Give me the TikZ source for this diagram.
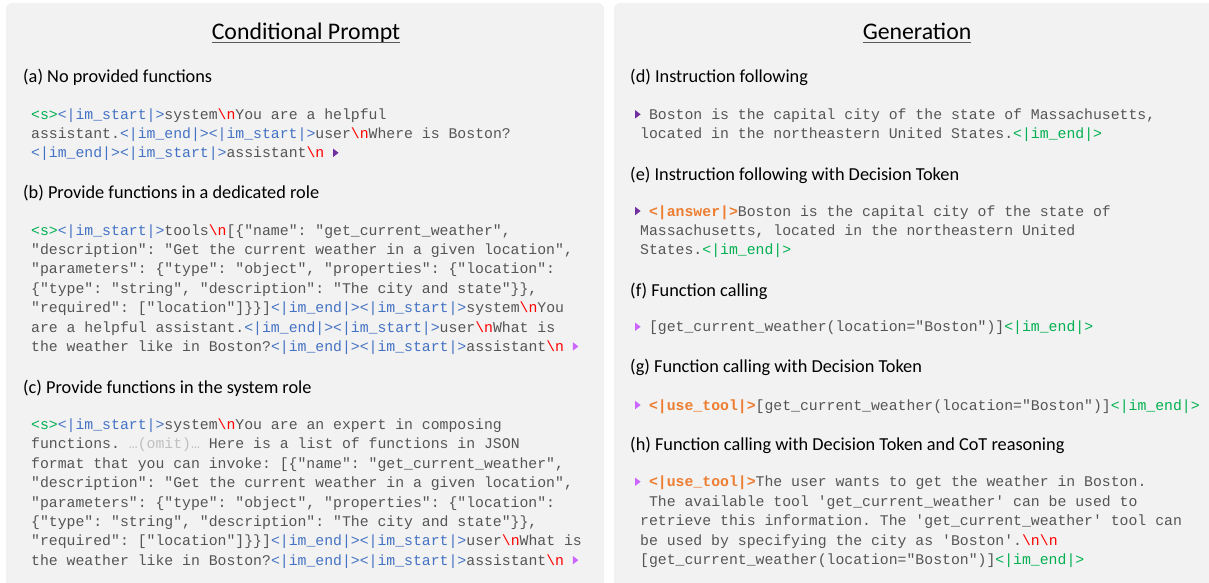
\documentclass[tikz,border=0pt]{standalone}
\usepackage{fontspec}
\setmainfont{Carlito}
\setmonofont{Liberation Mono}

\definecolor{panelgray}{HTML}{F2F2F2}
\definecolor{cgray}{HTML}{555555}
\definecolor{cblue}{HTML}{4472C4}
\definecolor{cgreen}{HTML}{00B050}
\definecolor{cred}{HTML}{FF0000}
\definecolor{corange}{HTML}{ED7D31}
\definecolor{cpurple}{HTML}{7030A0}
\definecolor{cviolet}{HTML}{CC66FF}
\definecolor{comit}{HTML}{BFBFBF}
\definecolor{cline}{HTML}{595959}

% special tokens
\newcommand\tS{\textcolor{cgreen}{<s>}}
\newcommand\tIS{\textcolor{cblue}{<|im\_start|>}}
\newcommand\tIE{\textcolor{cblue}{<|im\_end|>}}
\newcommand\tGE{\textcolor{cgreen}{<|im\_end|>}}
\newcommand\tN{\textcolor{cred}{\textbackslash n}}
\newcommand\tAns{\textcolor{corange}{\textbf{<|answer|>}}}
\newcommand\tUse{\textcolor{corange}{\textbf{<|use\_tool|>}}}
% generation markers: small right-pointing triangles (canvas units)
\newcommand\tri[1]{\tikz[baseline=0pt]\fill[#1] (0pt,1pt) -- (5.4pt,5.15pt) -- (0pt,9.3pt) -- cycle;}
\newcommand\triD{\tri{cpurple}}
\newcommand\triL{\tri{cviolet}}
\newcommand\lead[1]{\makebox[0pt][l]{\hspace{-5pt}#1}\hphantom{x}}

\begin{document}
\begin{tikzpicture}[x=1pt,y=-1pt,
  panel/.style={fill=panelgray, rounded corners=6pt},
  title/.style={font=\fontsize{23.8}{28}\selectfont, anchor=base, inner sep=0pt},
  uline/.style={draw=cline, line width=1.4pt},
  head/.style={font=\fontsize{18.3}{22}\selectfont, anchor=base west, inner sep=0pt},
  code/.style={font=\ttfamily\fontsize{14.8}{19.4}\selectfont, text=cgray,
    align=left, anchor=north west, inner sep=0pt}]
\useasboundingbox (0,0) rectangle (1209,583);

% panels
\begin{scope}
  \clip (0,0) rectangle (1209,583);
  \path[panel] (6,3) rectangle (604,620);
  \path[panel] (614,3) rectangle (1240,620);
\end{scope}

% titles
\node[title] (tl) at (306,39.3) {Conditional Prompt};
\node[title] (tr) at (917,39.3) {Generation};
\draw[uline] ([yshift=-3.2pt]tl.base west) -- ([yshift=-3.2pt]tl.base east);
\draw[uline] ([yshift=-3.2pt]tr.base west) -- ([yshift=-3.2pt]tr.base east);

% left column: prompts
\node[head] (ha) at (23,82.5) {(a) No provided functions};
\node[code] (ca) at (31,105.4) {\strut\tS\tIS system\tN You are a helpful\\
assistant.\tIE\tIS user\tN Where is Boston?\\
\tIE\tIS assistant\tN\ \triD};

\node[head] (hb) at (23,198) {(b) Provide functions in a dedicated role};
\node[code] (cb) at (31,221.4) {\strut\tS\tIS tools\tN [\{"name": "get\_current\_weather",\\
"description": "Get the current weather in a given location",\\
"parameters": \{"type": "object", "properties": \{"location":\\
\{"type": "string", "description": "The city and state"\}\},\\
"required": ["location"]\}\}]\tIE\tIS system\tN You\\
are a helpful assistant.\tIE\tIS user\tN What is\\
the weather like in Boston?\tIE\tIS assistant\tN\ \triL};

\node[head] (hc) at (23,393) {(c) Provide functions in the system role};
\node[code] (cc) at (31,415.7) {\strut\tS\tIS system\tN You are an expert in composing\\
functions. \textcolor{comit}{…(omit)…} Here is a list of functions in JSON\\
format that you can invoke: [\{"name": "get\_current\_weather",\\
"description": "Get the current weather in a given location",\\
"parameters": \{"type": "object", "properties": \{"location":\\
\{"type": "string", "description": "The city and state"\}\},\\
"required": ["location"]\}\}]\tIE\tIS user\tN What is\\
the weather like in Boston?\tIE\tIS assistant\tN\ \triL};

% right column: generations
\node[head] (hd) at (630,83) {(d) Instruction following};
\node[code] (cd) at (640,105.7) {\strut\lead{\triD}Boston is the capital city of the state of Massachusetts,\\
located in the northeastern United States.\tGE};

\node[head] (he) at (630,180) {(e) Instruction following with Decision Token};
\node[code] (ce) at (640,202.4) {\strut\lead{\triD}\tAns Boston is the capital city of the state of\\
Massachusetts, located in the northeastern United\\
States.\tGE};

\node[head] (hf) at (630,296) {(f) Function calling};
\node[code] (cf) at (640,318.1) {\strut\lead{\triL}[get\_current\_weather(location="Boston")]\tGE};

\node[head] (hg) at (630,372.7) {(g) Function calling with Decision Token};
\node[code] (cg) at (640,396.4) {\strut\lead{\triL}\tUse[get\_current\_weather(location="Boston")]\tGE};

\node[head] (hh) at (630,450.7) {(h) Function calling with Decision Token and CoT reasoning};
\node[code] (ch) at (640,473.1) {\strut\lead{\triL}\tUse The user wants to get the weather in Boston.\\
\hphantom{x}The available tool 'get\_current\_weather' can be used to\\
retrieve this information. The 'get\_current\_weather' tool can\\
be used by specifying the city as 'Boston'.\tN\tN\\
{}[get\_current\_weather(location="Boston")]\tGE};
\end{tikzpicture}
\end{document}
